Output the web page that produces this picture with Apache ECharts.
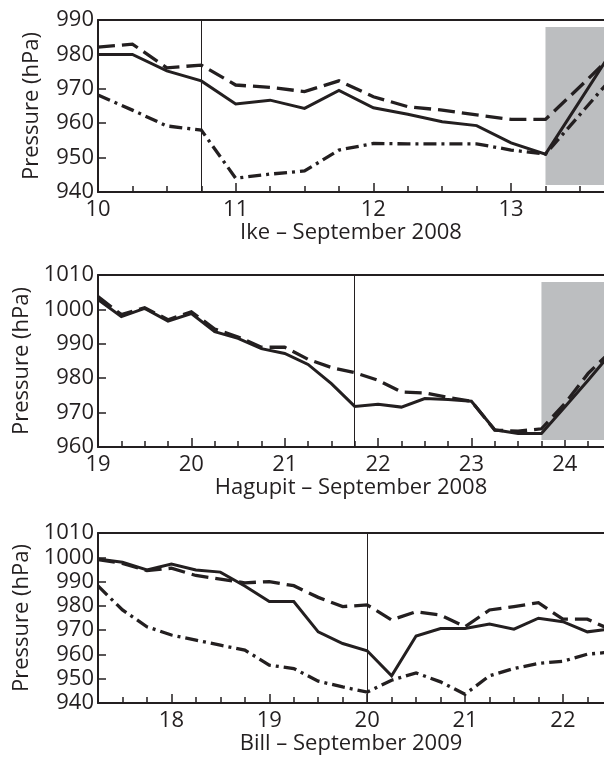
<!DOCTYPE html>
<html>
<head>
<meta charset="utf-8">
<script src="https://cdn.jsdelivr.net/npm/echarts@6/dist/echarts.min.js"></script>
<style>
html,body{margin:0;padding:0;background:#fff;}
#chart{width:604px;height:757px;}
</style>
</head>
<body>
<div id="chart"></div>
<script>
// ---- Data ----
const panelTitles = ['Ike \u2013 September 2008', 'Hagupit \u2013 September 2008', 'Bill \u2013 September 2009'];
const yAxisTitle = 'Pressure (hPa)';

const ikeTimes    = [10, 10.25, 10.5, 10.75, 11, 11.25, 11.5, 11.75, 12, 12.25, 12.5, 12.75, 13, 13.25, 13.5, 13.75];
const ikeSolid    = [980, 980, 975.2, 972.3, 965.6, 966.7, 964.3, 969.5, 964.5, 962.6, 960.4, 959.3, 954.3, 951, 966.5, 982];
const ikeDashed   = [982.1, 983, 976.1, 976.9, 971.1, 970.4, 969.2, 972.3, 967.7, 964.8, 963.8, 962.4, 961.1, 961.1, 970.6, 980.3];
const ikeDashDot  = [968.2, 963.8, 959.2, 958, 944, 945.2, 946.1, 952.2, 954.1, 954, 954, 954, 952.2, 951, 962.5, 974];

const hagTimes    = [19, 19.25, 19.5, 19.75, 20, 20.25, 20.5, 20.75, 21, 21.25, 21.5, 21.75, 22, 22.25, 22.5, 22.75, 23, 23.25, 23.5, 23.75, 24, 24.25, 24.5];
const hagSolid    = [1002.9, 997.9, 1000.3, 996.6, 998.8, 993.5, 991.6, 988.6, 987.2, 984, 978.4, 971.8, 972.4, 971.6, 974.1, 973.8, 973.3, 965, 963.9, 963.9, 971.6, 979.4, 987.5];
const hagDashed   = [1003.7, 998.5, 1000.5, 997, 999.3, 994.3, 992, 989, 989, 985.5, 983.1, 981.6, 979.4, 976, 975.7, 974.4, 973.3, 964.9, 964.6, 965.3, 972.6, 981.4, 988];

const billTimes   = [17.25, 17.5, 17.75, 18, 18.25, 18.5, 18.75, 19, 19.25, 19.5, 19.75, 20, 20.25, 20.5, 20.75, 21, 21.25, 21.5, 21.75, 22, 22.25, 22.5];
const billSolid   = [999.3, 998, 994.8, 997.2, 994.8, 993.9, 988.2, 981.8, 981.8, 969.3, 964.5, 961.5, 951.2, 967.6, 970.7, 970.7, 972.5, 970.4, 974.9, 973.5, 969.3, 970.5];
const billDashed  = [999, 997.5, 994.5, 995.5, 992.5, 991, 989.5, 990, 988.3, 983.5, 979.7, 980.4, 974.2, 977.6, 976.2, 971.4, 978.3, 979.7, 981.3, 974.5, 974.5, 970];
const billDashDot = [988.2, 978.3, 971.4, 968, 965.9, 963.8, 961.8, 955.6, 954.2, 949, 946.6, 944.5, 949.4, 952.4, 948.7, 943.6, 951.2, 954.2, 956.3, 957.2, 960.1, 961];

// axis ranges and tick values
const xRanges = [[10, 13.675], [19, 24.42], [17.25, 22.42]];
const yRanges = [[940, 990], [960, 1010], [940, 1010]];
const xLabelValues = [[10, 11, 12, 13], [19, 20, 21, 22, 23, 24], [18, 19, 20, 21, 22]];
const xMinorTicks = [
  [10, 10.25, 10.5, 10.75, 11, 11.25, 11.5, 11.75, 12, 12.25, 12.5, 12.75, 13, 13.25, 13.5],
  [19, 19.25, 19.5, 19.75, 20, 20.25, 20.5, 20.75, 21, 21.25, 21.5, 21.75, 22, 22.25, 22.5, 22.75, 23, 23.25, 23.5, 23.75, 24, 24.25],
  [17.25, 17.5, 17.75, 18, 18.25, 18.5, 18.75, 19, 19.25, 19.5, 19.75, 20, 20.25, 20.5, 20.75, 21, 21.25, 21.5, 21.75, 22, 22.25]
];
// vertical reference lines and shaded periods
const vLines = [10.75, 21.75, 20];
const shaded = [[13.25, 942, 13.675, 988], [23.75, 962, 24.42, 1008], null];

// ---- Chart ----
const INK = '#231f20';
const FONT = 'Open Sans';
const grids = [
  {left: 98, top: 20, width: 506, height: 172},
  {left: 98, top: 275, width: 506, height: 172},
  {left: 98, top: 533, width: 506, height: 170}
];

const xAxes = [], yAxes = [], series = [];
const panels = [
  {times: ikeTimes, lines: [ikeSolid, ikeDashed, ikeDashDot]},
  {times: hagTimes, lines: [hagSolid, hagDashed]},
  {times: billTimes, lines: [billSolid, billDashed, billDashDot]}
];
const styles = ['solid', [17, 7], [13, 5, 3, 5]];

panels.forEach((p, i) => {
  const base = xAxes.length;
  xAxes.push({
    type: 'value', gridIndex: i, min: xRanges[i][0], max: xRanges[i][1], position: 'bottom',
    axisLine: {show: true, lineStyle: {color: INK, width: 2}},
    axisTick: {show: true, inside: true, length: 6, customValues: xMinorTicks[i], lineStyle: {color: INK, width: 1.5}},
    axisLabel: {show: true, customValues: xLabelValues[i], margin: 7, fontSize: 22, fontFamily: FONT, color: INK,
      formatter: v => String(v)},
    splitLine: {show: false},
    name: panelTitles[i], nameLocation: 'middle', nameGap: 30,
    nameTextStyle: {fontSize: 22, fontFamily: FONT, color: INK}
  });
  xAxes.push({
    type: 'value', gridIndex: i, min: xRanges[i][0], max: xRanges[i][1], position: 'bottom',
    axisLine: {show: false},
    axisTick: {show: true, inside: true, length: 9, customValues: xLabelValues[i], lineStyle: {color: INK, width: 1.5}},
    axisLabel: {show: false}, splitLine: {show: false}
  });
  xAxes.push({
    type: 'value', gridIndex: i, min: xRanges[i][0], max: xRanges[i][1], position: 'top',
    axisLine: {show: true, lineStyle: {color: INK, width: 2}},
    axisTick: {show: false}, axisLabel: {show: false}, splitLine: {show: false}
  });
  yAxes.push({
    type: 'value', gridIndex: i, min: yRanges[i][0], max: yRanges[i][1], interval: 10,
    axisLine: {show: true, lineStyle: {color: INK, width: 2}},
    axisTick: {show: true, inside: true, length: 8, lineStyle: {color: INK, width: 1.5}},
    axisLabel: {margin: 4, fontSize: 22, fontFamily: FONT, color: INK, formatter: v => String(v)},
    splitLine: {show: false},
    name: yAxisTitle, nameLocation: 'middle', nameGap: 55, nameRotate: 90,
    nameTextStyle: {fontSize: 22, fontFamily: FONT, color: INK}
  });
  const helper = {
    type: 'line', xAxisIndex: base, yAxisIndex: i, data: [], silent: true, animation: false,
    markLine: {
      silent: true, symbol: ['none', 'none'], label: {show: false},
      lineStyle: {color: INK, width: 1, type: 'solid'},
      data: [{xAxis: vLines[i]}]
    }
  };
  if (shaded[i]) {
    const s = shaded[i];
    helper.markArea = {
      silent: true, itemStyle: {color: '#bcbec0'},
      data: [[{coord: [s[0], s[1]]}, {coord: [s[2], s[3]]}]]
    };
  }
  series.push(helper);
  p.lines.forEach((vals, k) => {
    series.push({
      type: 'line', xAxisIndex: base, yAxisIndex: i, showSymbol: false, animation: false,
      data: p.times.map((t, j) => [t, vals[j]]),
      lineStyle: {color: INK, width: k === 0 ? 3 : 3.3, type: styles[k], cap: 'butt', join: 'miter'},
      z: 3
    });
  });
});

const chart = echarts.init(document.getElementById('chart'), null, {renderer: 'canvas'});
chart.setOption({
  animation: false,
  backgroundColor: '#fff',
  grid: grids,
  xAxis: xAxes,
  yAxis: yAxes,
  series: series
});
</script>
</body>
</html>
